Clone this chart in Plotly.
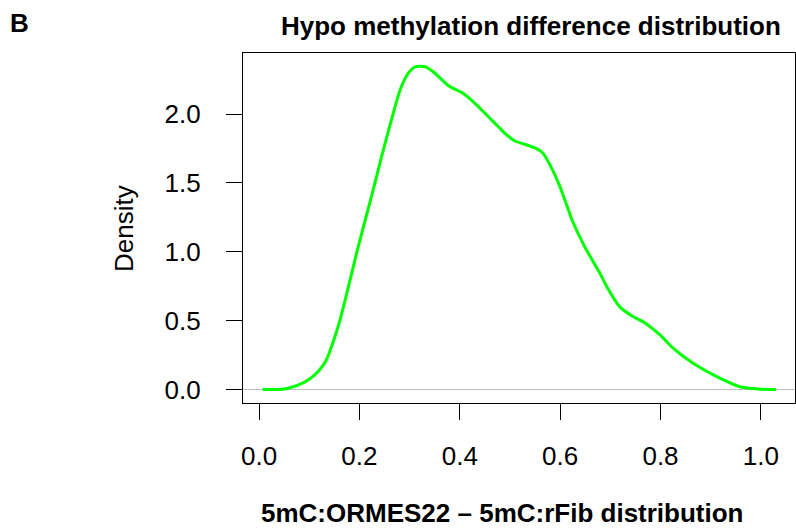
import plotly.graph_objects as go

# Density curve
diff_x = [0.007, 0.03, 0.05, 0.058, 0.08, 0.10, 0.12, 0.134, 0.149, 0.161, 0.175,
          0.195, 0.213, 0.231, 0.244, 0.264, 0.281, 0.297, 0.311, 0.331, 0.347,
          0.38, 0.407, 0.434, 0.46, 0.48, 0.49, 0.51, 0.53, 0.55, 0.565, 0.58,
          0.60, 0.625, 0.65, 0.679, 0.693, 0.719, 0.745, 0.766, 0.799, 0.825,
          0.865, 0.912, 0.958, 0.978, 1.0, 1.03]
density_y = [0.0, 0.0, 0.003, 0.009, 0.035, 0.075, 0.14, 0.214, 0.36, 0.5, 0.7,
             1.0, 1.25, 1.50, 1.69, 1.96, 2.175, 2.296, 2.344, 2.344, 2.308,
             2.20, 2.15, 2.066, 1.97, 1.897, 1.86, 1.805, 1.78, 1.755, 1.72, 1.63,
             1.47, 1.22, 1.03, 0.846, 0.747, 0.60, 0.53, 0.49, 0.396, 0.30,
             0.19, 0.093, 0.02, 0.009, 0.002, 0.0]

x_ticks = [0.0, 0.2, 0.4, 0.6, 0.8, 1.0]
x_tick_labels = ["0.0", "0.2", "0.4", "0.6", "0.8", "1.0"]
y_ticks = [0.0, 0.5, 1.0, 1.5, 2.0]
y_tick_labels = ["0.0", "0.5", "1.0", "1.5", "2.0"]

title_text = "Hypo methylation difference distribution"
x_title = "5mC:ORMES22 \u2013 5mC:rFib distribution"
y_title = "Density"
panel_label = "B"

FONT = "Liberation Sans, Arial, Helvetica, sans-serif"
FS = 26

fig = go.Figure()
fig.add_trace(go.Scatter(
    x=diff_x, y=density_y, mode="lines",
    line=dict(color="#00FF00", width=3, shape="spline", smoothing=0.6),
    showlegend=False, hoverinfo="skip",
))

fig.add_shape(type="line", xref="paper", yref="y", x0=0, x1=1, y0=0, y1=0,
              line=dict(color="#BEBEBE", width=1.2), layer="below")

fig.update_layout(
    width=796, height=529,
    margin=dict(l=243, r=1, t=53, b=126),
    paper_bgcolor="white", plot_bgcolor="white",
    font=dict(family=FONT, size=FS, color="black"),
    xaxis=dict(range=[-0.032, 1.068], tickvals=x_ticks, ticktext=x_tick_labels,
               showgrid=False, zeroline=False, showline=True, mirror=True,
               linecolor="black", linewidth=1.3, ticks="outside", ticklen=16,
               tickwidth=1.3, tickcolor="black", ticklabelstandoff=14,
               tickfont=dict(size=FS)),
    yaxis=dict(range=[-0.098, 2.444], tickvals=y_ticks, ticktext=y_tick_labels,
               showgrid=False, zeroline=False, showline=True, mirror=True,
               linecolor="black", linewidth=1.3, ticks="outside", ticklen=16,
               tickwidth=1.3, tickcolor="black", ticklabelstandoff=20,
               tickfont=dict(size=FS)),
    annotations=[
        dict(text="<b>%s</b>" % title_text, xref="paper", yref="paper",
             x=(531 - 243) / 552, y=(403 - 26) / 350, xanchor="center", yanchor="middle",
             showarrow=False, font=dict(size=FS)),
        dict(text="<b>%s</b>" % x_title, xref="paper", yref="paper",
             x=(502 - 243) / 552, y=(403 - 513) / 350, xanchor="center", yanchor="middle",
             showarrow=False, font=dict(size=FS)),
        dict(text=y_title, xref="paper", yref="paper", textangle=-90,
             x=(124 - 243) / 552, y=0.5, xanchor="center", yanchor="middle",
             showarrow=False, font=dict(size=FS)),
        dict(text="<b>%s</b>" % panel_label, xref="paper", yref="paper",
             x=(19 - 243) / 552, y=(403 - 23) / 350, xanchor="center", yanchor="middle",
             showarrow=False, font=dict(size=FS)),
    ],
)

fig.write_html("out.html")
